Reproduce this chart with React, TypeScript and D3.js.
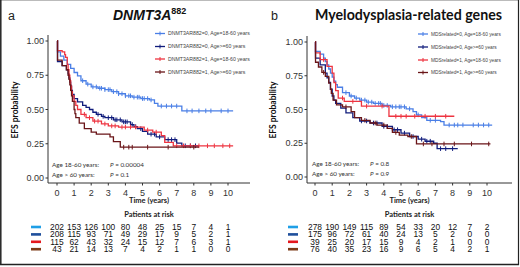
import React from "react";
import * as d3 from "d3";

// ---------- data ----------
const years = [0, 1, 2, 3, 4, 5, 6, 7, 8, 9, 10];
const probTicks = [0, 0.25, 0.5, 0.75, 1];
const probTickLabels = ["0.00", "0.25", "0.50", "0.75", "1.00"];

const dnmtLegend = [
  "DNMT3AR882=0, Age=18-60 years",
  "DNMT3AR882=0, Age>=60 years",
  "DNMT3AR882=1, Age=18-60 years",
  "DNMT3AR882=1, Age>=60 years",
];
const mdsLegend = [
  "MDSrelated=0, Age=18-60 years",
  "MDSrelated=0, Age>=60 years",
  "MDSrelated=1, Age=18-60 years",
  "MDSrelated=1, Age>=60 years",
];

// Kaplan-Meier steps: [time (years), EFS probability]
const dnmtWtYoung: [number, number][] = [[0,1],[0.03,0.92],[0.2,0.89],[0.4,0.86],[0.6,0.83],[0.8,0.8],[1.0,0.77],[1.2,0.745],[1.4,0.71],[1.7,0.685],[2.0,0.665],[2.4,0.655],[2.8,0.645],[3.2,0.63],[3.6,0.615],[4.0,0.6],[4.4,0.59],[4.9,0.58],[5.4,0.57],[5.7,0.545],[5.9,0.525],[7.3,0.49]];
const dnmtWtOld: [number, number][] = [[0,1],[0.03,0.85],[0.3,0.82],[0.55,0.79],[0.65,0.76],[0.7,0.73],[0.75,0.7],[0.8,0.67],[0.85,0.64],[0.9,0.61],[1.0,0.58],[1.2,0.555],[1.5,0.53],[1.7,0.515],[1.9,0.5],[2.1,0.48],[2.3,0.465],[2.6,0.45],[2.8,0.44],[3.3,0.425],[3.8,0.41],[4.3,0.39],[4.5,0.375],[4.7,0.36],[5.0,0.34],[5.3,0.32],[5.8,0.3],[6.3,0.28],[7.0,0.255],[7.3,0.235]];
const dnmtMutYoung: [number, number][] = [[0,1],[0.03,0.93],[0.3,0.92],[0.45,0.9],[0.5,0.88],[0.6,0.83],[0.65,0.79],[0.7,0.75],[0.75,0.71],[0.8,0.67],[0.85,0.63],[0.9,0.6],[1.0,0.56],[1.1,0.53],[1.2,0.5],[1.4,0.465],[1.7,0.44],[2.1,0.415],[2.6,0.395],[3.0,0.38],[3.6,0.372],[5.1,0.35],[5.6,0.335],[6.1,0.31],[6.3,0.26],[6.8,0.235]];
const dnmtMutOld: [number, number][] = [[0,1],[0.03,0.86],[0.3,0.82],[0.55,0.79],[0.65,0.75],[0.7,0.72],[0.75,0.68],[0.8,0.64],[0.85,0.6],[0.9,0.56],[1.0,0.5],[1.05,0.47],[1.1,0.44],[1.3,0.4],[1.6,0.36],[2.0,0.335],[2.3,0.32],[3.1,0.3],[3.3,0.265],[3.7,0.225]];
const dnmtEnds = [10.3, 8.3, 10.3, 8.3];
const dnmtCensor = [
  [1.5,1.8,2.1,2.3,2.5,2.6,2.8,3.0,3.1,3.3,3.5,3.6,3.8,4.0,4.2,4.3,4.5,4.7,4.8,5.0,5.1,5.3,5.5,6.1,6.4,6.7,7.0,7.6,7.9,8.3,8.7,9.0,9.6,10.0],
  [2.4,2.7,3.0,3.2,3.4,3.5,3.7,3.9,4.0,4.1,4.4,4.6,4.9,5.5,5.7,6.0,6.5,6.7,6.9,7.5,7.8,8.1],
  [1.6,1.9,2.2,2.4,2.8,3.2,3.4,3.8,4.0,4.3,4.6,5.3,5.8,7.0,7.4,7.8,8.3,8.8,9.2,9.7,10.1],
  [3.9,4.2,4.4,5.3,6.5,8.0],
];

const mdsWtYoung: [number, number][] = [[0,1],[0.03,0.93],[0.3,0.91],[0.5,0.88],[0.6,0.855],[0.7,0.83],[0.8,0.8],[0.9,0.77],[1.0,0.74],[1.1,0.71],[1.2,0.685],[1.3,0.665],[1.6,0.625],[2.0,0.6],[2.3,0.585],[2.6,0.57],[3.0,0.555],[3.4,0.545],[3.9,0.53],[4.4,0.52],[5.3,0.505],[5.7,0.485],[5.9,0.46],[6.2,0.44],[6.5,0.42],[7.3,0.41],[7.5,0.385]];
const mdsWtOld: [number, number][] = [[0,1],[0.03,0.88],[0.3,0.83],[0.6,0.77],[0.7,0.735],[0.8,0.7],[0.9,0.65],[1.0,0.6],[1.1,0.57],[1.2,0.545],[1.5,0.51],[1.8,0.475],[2.2,0.44],[2.6,0.415],[3.2,0.4],[3.9,0.375],[4.5,0.35],[5.0,0.325],[5.5,0.3],[6.0,0.28],[6.4,0.265],[6.9,0.25],[7.1,0.21]];
const mdsMutYoung: [number, number][] = [[0,1],[0.03,0.92],[0.3,0.87],[0.7,0.82],[1.0,0.77],[1.1,0.7],[1.2,0.64],[1.35,0.585],[1.7,0.56],[2.7,0.525],[4.3,0.45]];
const mdsMutOld: [number, number][] = [[0,1],[0.03,0.85],[0.2,0.815],[0.4,0.775],[0.6,0.745],[0.8,0.695],[0.9,0.65],[0.95,0.62],[1.05,0.57],[1.25,0.535],[1.6,0.52],[2.1,0.485],[2.3,0.44],[2.7,0.42],[3.2,0.4],[3.6,0.385],[4.2,0.36],[4.5,0.33],[4.9,0.31],[5.4,0.3],[5.9,0.245]];
const mdsEnds = [10.3, 8.3, 8.1, 10.2];
const mdsCensor = [
  [1.8,2.1,2.4,2.7,2.9,3.1,3.3,3.5,3.7,3.8,4.0,4.2,4.5,4.7,4.9,5.0,5.2,5.5,6.0,6.7,7.0,7.8,8.1,8.3,8.6,9.2,9.5,9.8,10.1],
  [2.7,3.0,3.4,3.6,4.0,4.2,4.6,4.8,5.2,5.7,6.2,6.5,6.7,7.3,7.6,8.0],
  [0.5,1.6,2.2,3.0,3.9,4.7,5.0,5.3,5.8,6.4,7.0,7.6],
  [0.5,1.8,2.9,3.5,4.0,4.7,5.6,6.3,6.8,7.5,8.1,9.1,10.1],
];

const dnmtRisk = [
  [202,153,126,100,80,48,25,15,7,4,1],
  [208,115,93,71,49,29,17,9,5,2,1],
  [115,62,43,32,24,15,12,7,6,3,1],
  [43,21,14,13,7,4,2,1,1,0,0],
];
const mdsRisk = [
  [278,190,149,115,89,54,33,20,12,7,2],
  [175,96,72,61,40,24,13,5,2,0,0],
  [39,25,20,17,15,9,4,2,1,0,0],
  [76,40,35,23,16,9,6,5,4,2,1],
];

const dnmtP = ["0.00004", "0.1"];
const mdsP = ["0.8", "0.9"];

// ---------- styles ----------
const curveColors = ["#4a7fe6", "#101c7c", "#ee3440", "#6a1518"];
const riskColors = ["#1f9fe6", "#1f4f9c", "#e4171d", "#7c3b17"];
const ARIAL = "'Liberation Sans', Arial, sans-serif";
const CAL = "Lato, 'Open Sans', sans-serif";

type Panel = {
  letter: string;
  letterX: number;
  yLabelX: number;
  xr: [number, number];
  yr: [number, number];
  axisLeft: number;
  axisRight: number;
  axisBottom: number;
  axisTop: number;
  series: [number, number][][];
  ends: number[];
  censor: number[][];
  legend: string[];
  legLineX: number;
  legY: number[];
  legFont: number;
  risk: number[][];
  riskBarX: number;
  pLabelX: number;
  pValX: number;
  pY: number[];
  pvals: string[];
};

const panels: Panel[] = [
  {
    letter: "a", letterX: 8, yLabelX: 17.5,
    xr: [57, 228], yr: [178, 41],
    axisLeft: 48, axisRight: 250, axisBottom: 183, axisTop: 35,
    series: [dnmtWtYoung, dnmtWtOld, dnmtMutYoung, dnmtMutOld],
    ends: dnmtEnds, censor: dnmtCensor, legend: dnmtLegend,
    legLineX: 155, legY: [33.5, 46.5, 59, 72], legFont: 5.2,
    risk: dnmtRisk, riskBarX: 31,
    pLabelX: 52, pValX: 110, pY: [167, 176.5], pvals: dnmtP,
  },
  {
    letter: "b", letterX: 271, yLabelX: 276,
    xr: [315, 487], yr: [177, 42],
    axisLeft: 307, axisRight: 512, axisBottom: 183, axisTop: 36,
    series: [mdsWtYoung, mdsWtOld, mdsMutYoung, mdsMutOld],
    ends: mdsEnds, censor: mdsCensor, legend: mdsLegend,
    legLineX: 418, legY: [34, 47, 60, 72.5], legFont: 4.8,
    risk: mdsRisk, riskBarX: 288,
    pLabelX: 312, pValX: 370, pY: [165.5, 175.5], pvals: mdsP,
  },
];

function survAt(pts: [number, number][], t: number) {
  let p = pts[0][1];
  for (const [tt, pp] of pts) if (tt <= t) p = pp;
  return p;
}

function PanelView({ pn, idx }: { pn: Panel; idx: number }) {
  const x = d3.scaleLinear().domain([0, 10]).range(pn.xr);
  const y = d3.scaleLinear().domain([0, 1]).range(pn.yr);
  const line = d3
    .line<[number, number]>()
    .x((d) => x(d[0]))
    .y((d) => y(d[1]))
    .curve(d3.curveStepAfter);
  const midX = (pn.axisLeft + pn.axisRight) / 2;
  const riskY = [230, 237.4, 244.8, 252.2];
  return (
    <g>
      <text x={pn.letterX} y={20} fontFamily={ARIAL} fontSize={12.5} fill="#222">
        {pn.letter}
      </text>
      {idx === 0 ? (
        <text x={113} y={20} fontFamily={ARIAL} fontSize={14} fontWeight="bold" fontStyle="italic" fill="#111">
          DNMT3A
          <tspan fontSize={9} dy={-6} fontStyle="normal">882</tspan>
        </text>
      ) : (
        <text x={315} y={20} fontFamily={CAL} fontSize={15} fontWeight="bold" fill="#111" textLength={187} lengthAdjust="spacingAndGlyphs">
          Myelodysplasia-related genes
        </text>
      )}
      {/* axes */}
      <line x1={pn.axisLeft} x2={pn.axisLeft} y1={pn.axisTop} y2={pn.axisBottom} stroke="#333" strokeWidth={1} />
      <line x1={pn.axisLeft} x2={pn.axisRight} y1={pn.axisBottom} y2={pn.axisBottom} stroke="#333" strokeWidth={1} />
      {probTicks.map((v, i) => (
        <g key={"yt" + i}>
          <line x1={pn.axisLeft - 2.5} x2={pn.axisLeft} y1={y(v)} y2={y(v)} stroke="#333" />
          <text x={pn.axisLeft - 4} y={y(v)} dy="0.35em" textAnchor="end" fontFamily={ARIAL} fontSize={9} fill="#333">
            {probTickLabels[i]}
          </text>
        </g>
      ))}
      {years.map((v) => (
        <g key={"xt" + v}>
          <line x1={x(v)} x2={x(v)} y1={pn.axisBottom} y2={pn.axisBottom + 2.5} stroke="#333" />
          <text x={x(v)} y={195.5} textAnchor="middle" fontFamily={ARIAL} fontSize={9} fill="#333">
            {v}
          </text>
        </g>
      ))}
      <text
        transform={`translate(${pn.yLabelX},110) rotate(-90)`}
        textAnchor="middle"
        fontFamily={CAL}
        fontSize={8.5}
        fontWeight="bold"
        fill="#111"
      >
        EFS probability
      </text>
      <text x={midX} y={202.5} textAnchor="middle" fontFamily={CAL} fontSize={7.5} fontWeight="bold" fill="#222">
        Time (years)
      </text>
      <text x={midX} y={217} textAnchor="middle" fontFamily={CAL} fontSize={7.5} fontWeight="bold" fill="#222">
        Patients at risk
      </text>
      {/* curves */}
      {pn.series.map((pts, si) => {
        const full: [number, number][] = [...pts, [pn.ends[si], pts[pts.length - 1][1]]];
        return (
          <g key={"s" + si}>
            <path d={line(full) || ""} fill="none" stroke={curveColors[si]} strokeWidth={1.3} />
            {pn.censor[si].map((c, ci) => (
              <line
                key={ci}
                x1={x(c)}
                x2={x(c)}
                y1={y(survAt(pts, c)) - 2.3}
                y2={y(survAt(pts, c)) + 2.3}
                stroke={curveColors[si]}
                strokeWidth={1}
              />
            ))}
          </g>
        );
      })}
      {/* legend */}
      {pn.legend.map((lab, i) => (
        <g key={"lg" + i}>
          <line x1={pn.legLineX} x2={pn.legLineX + 10} y1={pn.legY[i]} y2={pn.legY[i]} stroke={curveColors[i]} strokeWidth={1.3} />
          <line x1={pn.legLineX + 5} x2={pn.legLineX + 5} y1={pn.legY[i] - 2} y2={pn.legY[i] + 2} stroke={curveColors[i]} strokeWidth={1} />
          <text x={pn.legLineX + 13} y={pn.legY[i]} dy="0.35em" fontFamily={ARIAL} fontSize={pn.legFont} fill="#444">
            {lab}
          </text>
        </g>
      ))}
      {/* p-values */}
      <text x={pn.pLabelX} y={pn.pY[0]} fontFamily={CAL} fontSize={6.3} fill="#333">Age 18-60 years:</text>
      <text x={pn.pLabelX} y={pn.pY[1]} fontFamily={CAL} fontSize={6.3} fill="#333">{"Age > 60 years:"}</text>
      {pn.pvals.map((pv, i) => (
        <text key={"pv" + i} x={pn.pValX} y={pn.pY[i]} fontFamily={CAL} fontSize={6.3} fill="#333">
          <tspan fontStyle="italic">P</tspan> = {pv}
        </text>
      ))}
      {/* risk table */}
      {pn.risk.map((row, ri) => (
        <g key={"r" + ri}>
          <rect x={pn.riskBarX} y={riskY[ri] - 4.3} width={10} height={2.6} fill={riskColors[ri]} />
          {row.map((n, k) => (
            <text key={k} x={x(years[k])} y={riskY[ri]} textAnchor="middle" fontFamily={ARIAL} fontSize={8.4} fill="#111">
              {n}
            </text>
          ))}
        </g>
      ))}
    </g>
  );
}

export default function App() {
  return (
    <div>
      <style>{`body{margin:0}`}</style>
      <svg width={520} height={267} style={{ display: "block", background: "#fff" }}>
        <rect x={0} y={0} width={520} height={267} fill="#fff" />
        {panels.map((pn, i) => (
          <PanelView key={i} pn={pn} idx={i} />
        ))}
        <line x1={0} x2={519} y1={0.5} y2={0.5} stroke="#bbb" />
        <line x1={0.8} x2={0.8} y1={0} y2={265} stroke="#222" strokeWidth={1.5} />
        <line x1={518.5} x2={518.5} y1={0} y2={265} stroke="#222" strokeWidth={1.2} />
        <line x1={0} x2={519} y1={264.5} y2={264.5} stroke="#222" strokeWidth={1.5} />
      </svg>
    </div>
  );
}
